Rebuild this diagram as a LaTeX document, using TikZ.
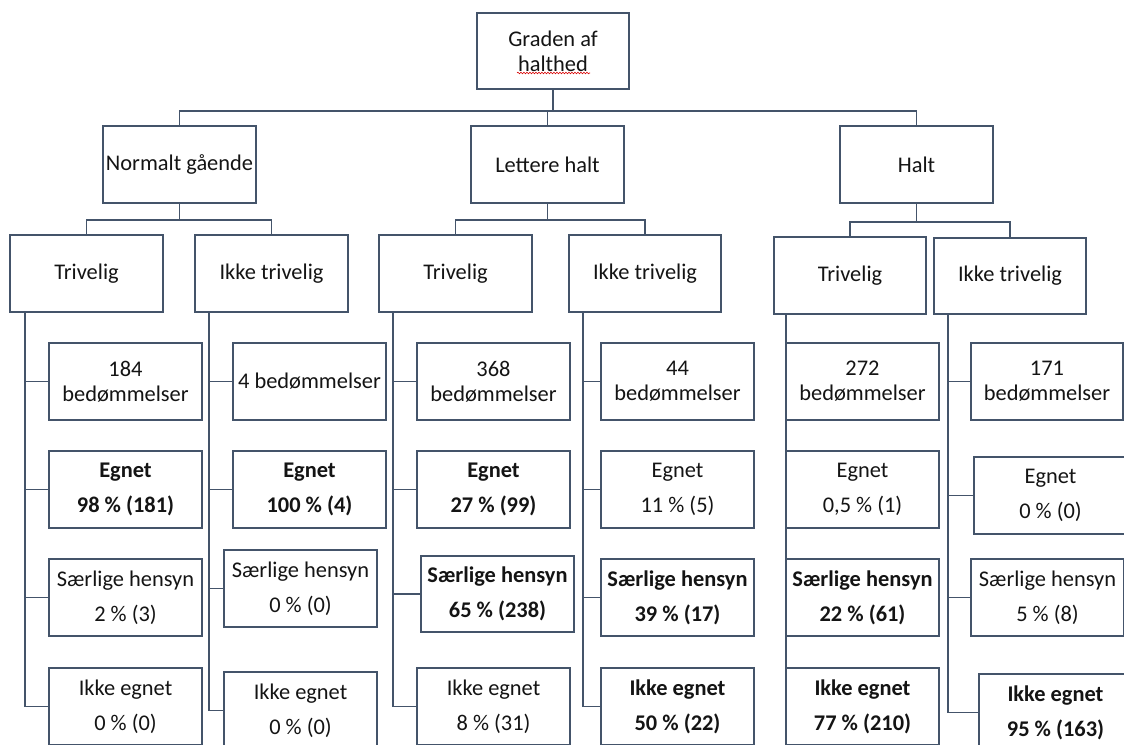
\documentclass[tikz,border=0pt]{standalone}
\usepackage{fontspec}
\setmainfont{Carlito}
\usetikzlibrary{decorations.pathmorphing}
\definecolor{lc}{HTML}{44546A}
\definecolor{tc}{HTML}{141414}
\begin{document}
\begin{tikzpicture}[x=1pt,y=-1pt,
  box/.style={draw=lc, line width=1.8pt, fill=white, text=tc, minimum width=153pt, minimum height=77pt,
              inner sep=0pt, align=center, font=\fontsize{22.4}{25}\selectfont},
  bbox/.style={box, font=\fontsize{22.4}{25}\selectfont\bfseries},
  wire/.style={draw=lc, line width=1.8pt}]
\useasboundingbox (0,0) rectangle (1124,744);
\clip (0,0) rectangle (1124,744);
\fill[white] (0,0) rectangle (1124,744);

% level 0 and 1
\node[box, minimum width=152pt, minimum height=76pt] (root) at (553,51) {Graden af\\halthed};
\node[box] (ng) at (179.5,164.5) {Normalt gående};
\node[box] (lh) at (547.5,164.5) {Lettere halt};
\node[box] (ha) at (916.5,164.5) {Halt};

% level 2
\node[box] (ngT) at (86.5,273.5) {Trivelig};
\node[box] (ngI) at (271.5,273.5) {Ikke trivelig};
\node[box] (lhT) at (455.5,273.5) {Trivelig};
\node[box, minimum width=152pt] (lhI) at (645,273.5) {Ikke trivelig};
\node[box, minimum width=152pt] (haT) at (850,275.5) {Trivelig};
\node[box, minimum width=152pt, minimum height=76pt] (haI) at (1010,276) {Ikke trivelig};

% leaves: Normalt gaaende / Trivelig
\node[box] (a1) at (125.5,381.5) {184\\bedømmelser};
\node[bbox] (a2) at (125.5,489.5) {Egnet\\[10pt]98 \% (181)};
\node[box] (a3) at (125.5,597.5) {Særlige hensyn\\[10pt]2 \% (3)};
\node[box] (a4) at (125.5,706.5) {Ikke egnet\\[10pt]0 \% (0)};
% Normalt gaaende / Ikke trivelig
\node[box] (b1) at (309.5,381.5) {4 bedømmelser};
\node[bbox] (b2) at (309.5,489.5) {Egnet\\[10pt]100 \% (4)};
\node[box] (b3) at (300.5,588.5) {Særlige hensyn\\[10pt]0 \% (0)};
\node[box] (b4) at (300.5,710.5) {Ikke egnet\\[10pt]0 \% (0)};
% Lettere halt / Trivelig
\node[box] (c1) at (493.5,381.5) {368\\bedømmelser};
\node[bbox] (c2) at (493.5,489.5) {Egnet\\[10pt]27 \% (99)};
\node[bbox, minimum height=76pt] (c3) at (497.5,594) {Særlige hensyn\\[10pt]65 \% (238)};
\node[box] (c4) at (493.5,706.5) {Ikke egnet\\[10pt]8 \% (31)};
% Lettere halt / Ikke trivelig
\node[box] (d1) at (677.5,381.5) {44\\bedømmelser};
\node[box] (d2) at (677.5,489.5) {Egnet\\[10pt]11 \% (5)};
\node[bbox] (d3) at (677.5,597.5) {Særlige hensyn\\[10pt]39 \% (17)};
\node[bbox] (d4) at (677.5,706.5) {Ikke egnet\\[10pt]50 \% (22)};
% Halt / Trivelig
\node[box] (e1) at (862.5,381.5) {272\\bedømmelser};
\node[box] (e2) at (862.5,489.5) {Egnet\\[10pt]0,5 \% (1)};
\node[bbox] (e3) at (862.5,597.5) {Særlige hensyn\\[10pt]22 \% (61)};
\node[bbox] (e4) at (862.5,706.5) {Ikke egnet\\[10pt]77 \% (210)};
% Halt / Ikke trivelig
\node[box, minimum width=152pt] (f1) at (1047,381.5) {171\\bedømmelser};
\node[box] (f2) at (1050.5,495.5) {Egnet\\[10pt]0 \% (0)};
\node[box] (f3) at (1047.5,597.5) {Særlige hensyn\\[10pt]5 \% (8)};
\node[bbox] (f4) at (1055.5,712.5) {Ikke egnet\\[10pt]95 \% (163)};

% spell-check squiggle
\draw[red!85!black, line width=0.6pt, decorate, decoration={snake, amplitude=0.8pt, segment length=3pt}] (517,73) -- (590,73);

% connectors level 0 -> 1
\draw[wire] (root.south) -- ++(0,21) -| (ng.north);
\draw[wire] (root.south) -- ++(0,21) -| (lh.north);
\draw[wire] (root.south) -- ++(0,21) -| (ha.north);
% level 1 -> 2
\draw[wire] (ng.south) -- ++(0,16) -| (ngT.north);
\draw[wire] (ng.south) -- ++(0,16) -| (ngI.north);
\draw[wire] (lh.south) -- ++(0,16) -| (lhT.north);
\draw[wire] (lh.south) -- ++(0,16) -| (lhI.north);
\draw[wire] (ha.south) -- ++(0,18) -| (haT.north);
\draw[wire] (ha.south) -- ++(0,18) -| (haI.north);

% spines and branches
\foreach \p/\o/\l in {ngT/16/a, ngI/15/b, lhT/15/c, lhI/15/d, haT/13/e, haI/15/f}{
  \foreach \k in {1,2,3,4}{
    \draw[wire] ([xshift=\o pt]\p.south west) |- (\l\k.west);
  }
}
\end{tikzpicture}
\end{document}
